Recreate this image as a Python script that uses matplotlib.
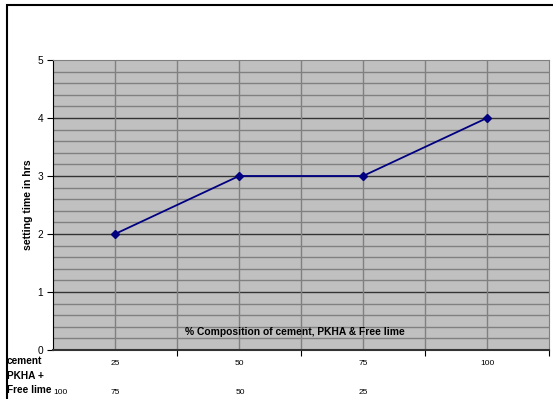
import matplotlib
matplotlib.use("Agg")
import matplotlib.pyplot as plt
from matplotlib.patches import Rectangle
import numpy as np

# data
cement_pct = ["25", "50", "75", "100"]
pkha_lime_pct = ["100", "75", "50", "25"]
setting_time = [2, 3, 3, 4]

fig = plt.figure(figsize=(5.53, 3.99), dpi=100)
ax = fig.add_axes([53/553, 49/399, 496/553, 290/399])

x = np.arange(1, len(cement_pct) + 1)

ax.set_facecolor("#c0c0c0")
ax.set_xlim(0.5, 4.5)
ax.set_ylim(0, 5)

# grid lines
for yv in np.arange(0.2, 5.0, 0.2):
    major = abs(yv - round(yv)) < 1e-6
    ax.axhline(yv, color="#333333" if major else "#808080", lw=1.0, zorder=1)
for xv in np.arange(1.0, 4.5, 0.5):
    ax.axvline(xv, color="#808080", lw=1.0, zorder=1)

ax.plot(x, setting_time, color="#000080", lw=1.3, marker="D", markersize=4.5, zorder=3)

# axis spines
for s in ["top", "right"]:
    ax.spines[s].set_color("#808080")
ax.spines["left"].set_color("black")
ax.spines["bottom"].set_color("#333333")
ax.spines["bottom"].set_linewidth(1.5)

ax.set_yticks(range(0, 6))
ax.set_yticklabels([str(i) for i in range(0, 6)], fontsize=7.3, family="Liberation Sans")
ax.tick_params(axis="y", length=4, width=0.8, pad=3)

ax.set_xticks([1.5, 2.5, 3.5, 4.5])
ax.set_xticklabels([])
ax.tick_params(axis="x", length=4, width=0.8)

for xi, lab in zip(x, cement_pct):
    ax.text(xi, -0.24, lab, ha="center", va="center", fontsize=6, family="Liberation Sans")

ax.set_ylabel("setting time in hrs", fontsize=7.6, fontweight="bold", family="Liberation Sans", labelpad=3)
ax.text(0.488, 0.063, "% Composition of cement, PKHA & Free lime", transform=ax.transAxes,
        ha="center", va="center", fontsize=7.4, fontweight="bold", family="Liberation Sans")

# second row of labels below axis
row2_x = [60, 115, 240, 363]
for px, lab in zip(row2_x, pkha_lime_pct):
    fig.text(px/553, 1 - 392/399, lab, ha="center", va="center", fontsize=6, family="Liberation Sans")

for py, lab in zip([361, 376, 390], ["cement", "PKHA +", "Free lime"]):
    fig.text(7/553, 1 - py/399, lab, ha="left", va="center", fontsize=7.3,
             fontweight="bold", family="Liberation Sans")

# chart frame
fig.patches.append(Rectangle((7/553, -0.1), 1.2, 1 - 5/399 + 0.1, transform=fig.transFigure,
                             fill=False, edgecolor="black", lw=1.5, zorder=0))

fig.savefig("out.png", dpi=100)
